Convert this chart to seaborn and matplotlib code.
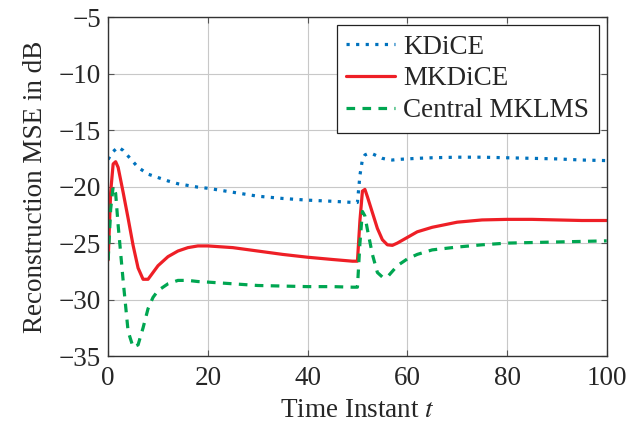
import matplotlib
matplotlib.use("Agg")
import matplotlib.pyplot as plt
import numpy as np
import pandas as pd
import seaborn as sns

sns.set_style("ticks")
plt.rcParams['font.family'] = ['Liberation Serif', 'DejaVu Serif']
plt.rcParams['mathtext.fontset'] = 'stix'

t = [0, 0.5, 1, 1.5, 2, 3, 4, 5, 6, 7, 8, 9, 10, 12, 14, 16, 18, 20, 25, 30, 35, 40, 45,
     49, 50, 50.5, 51, 51.5, 52, 53, 54, 55, 56, 57, 58, 60, 62, 65, 70, 75, 80, 85, 90, 95, 100]

kdice = [-17.6, -17.2, -16.9, -16.7, -16.5, -16.8, -17.3, -17.8, -18.3, -18.6, -18.9, -19.05, -19.2,
         -19.5, -19.75, -19.9, -20.05, -20.15, -20.5, -20.85, -21.05, -21.2, -21.3,
         -21.4, -21.4, -19.0, -17.6, -17.2, -17.1, -17.1, -17.3, -17.5, -17.6, -17.65, -17.6,
         -17.55, -17.5, -17.45, -17.4, -17.4, -17.45, -17.5, -17.55, -17.65, -17.7]

mkdice = [-26.5, -20.5, -18.0, -17.8, -18.3, -20.5, -22.8, -25.2, -27.2, -28.2, -28.2, -27.6, -27.0,
          -26.2, -25.7, -25.4, -25.25, -25.25, -25.4, -25.7, -26.0, -26.25, -26.45,
          -26.6, -26.6, -23.0, -20.4, -20.25, -20.9, -22.3, -23.7, -24.7, -25.15, -25.2, -25.0,
          -24.5, -24.0, -23.6, -23.15, -22.95, -22.9, -22.9, -22.95, -23.0, -23.0]

central = [-26.5, -22.0, -20.0, -20.6, -23.4, -28.3, -32.8, -34.2, -34.0, -32.5, -30.8, -29.8, -29.2,
           -28.6, -28.3, -28.3, -28.4, -28.45, -28.6, -28.75, -28.8, -28.85, -28.85,
           -28.9, -28.9, -25.0, -22.2, -22.6, -23.8, -26.0, -27.6, -28.0, -28.0, -27.5, -27.0,
           -26.4, -26.0, -25.6, -25.35, -25.15, -25.0, -24.95, -24.9, -24.85, -24.8]

names = ['KDiCE', 'MKDiCE', 'Central MKLMS']
colors = ['#0072BD', '#EE1F26', '#00A651']
styles = [(0, (1, 2)), '-', (0, (2.7, 2.3))]

df = pd.concat([
    pd.DataFrame({'t': t, 'mse': v, 'method': n})
    for n, v in zip(names, [kdice, mkdice, central])
])

fig, ax = plt.subplots(figsize=(6.4, 4.26), dpi=100)
fig.subplots_adjust(left=0.169, right=0.948, top=0.960, bottom=0.164)

for n, c, ls in zip(names, colors, styles):
    sub = df[df['method'] == n]
    sns.lineplot(data=sub, x='t', y='mse', ax=ax, color=c, lw=2.3,
                 label=n, estimator=None, sort=False)
    ax.lines[-1].set_linestyle(ls)

fs = 19.5
ax.set_xlim(0, 100)
ax.set_ylim(-35, -5)
ax.set_xticks([0, 20, 40, 60, 80, 100])
ax.set_yticks([-35, -30, -25, -20, -15, -10, -5])
ax.grid(True, color='#c8c8c8', lw=0.8)
ax.tick_params(direction='in', top=True, right=True, labelsize=fs, length=4,
               color='#555555')
ax.tick_params(axis='x', pad=7)
ax.tick_params(axis='y', pad=5)
for s in ax.spines.values():
    s.set_color('#333333')
    s.set_linewidth(1.0)

ax.set_xlabel('Time Instant $t$', fontsize=fs, labelpad=5)
ax.set_ylabel('Reconstruction MSE in dB', fontsize=fs, labelpad=8)

leg = ax.legend(loc='upper right', fontsize=fs, handlelength=1.8, handletextpad=0.3,
                fancybox=False, framealpha=1, edgecolor='#222222', borderaxespad=0.3,
                labelspacing=0.25, borderpad=0.35)
leg.get_frame().set_linewidth(0.9)

plt.savefig('out.png', dpi=100)
